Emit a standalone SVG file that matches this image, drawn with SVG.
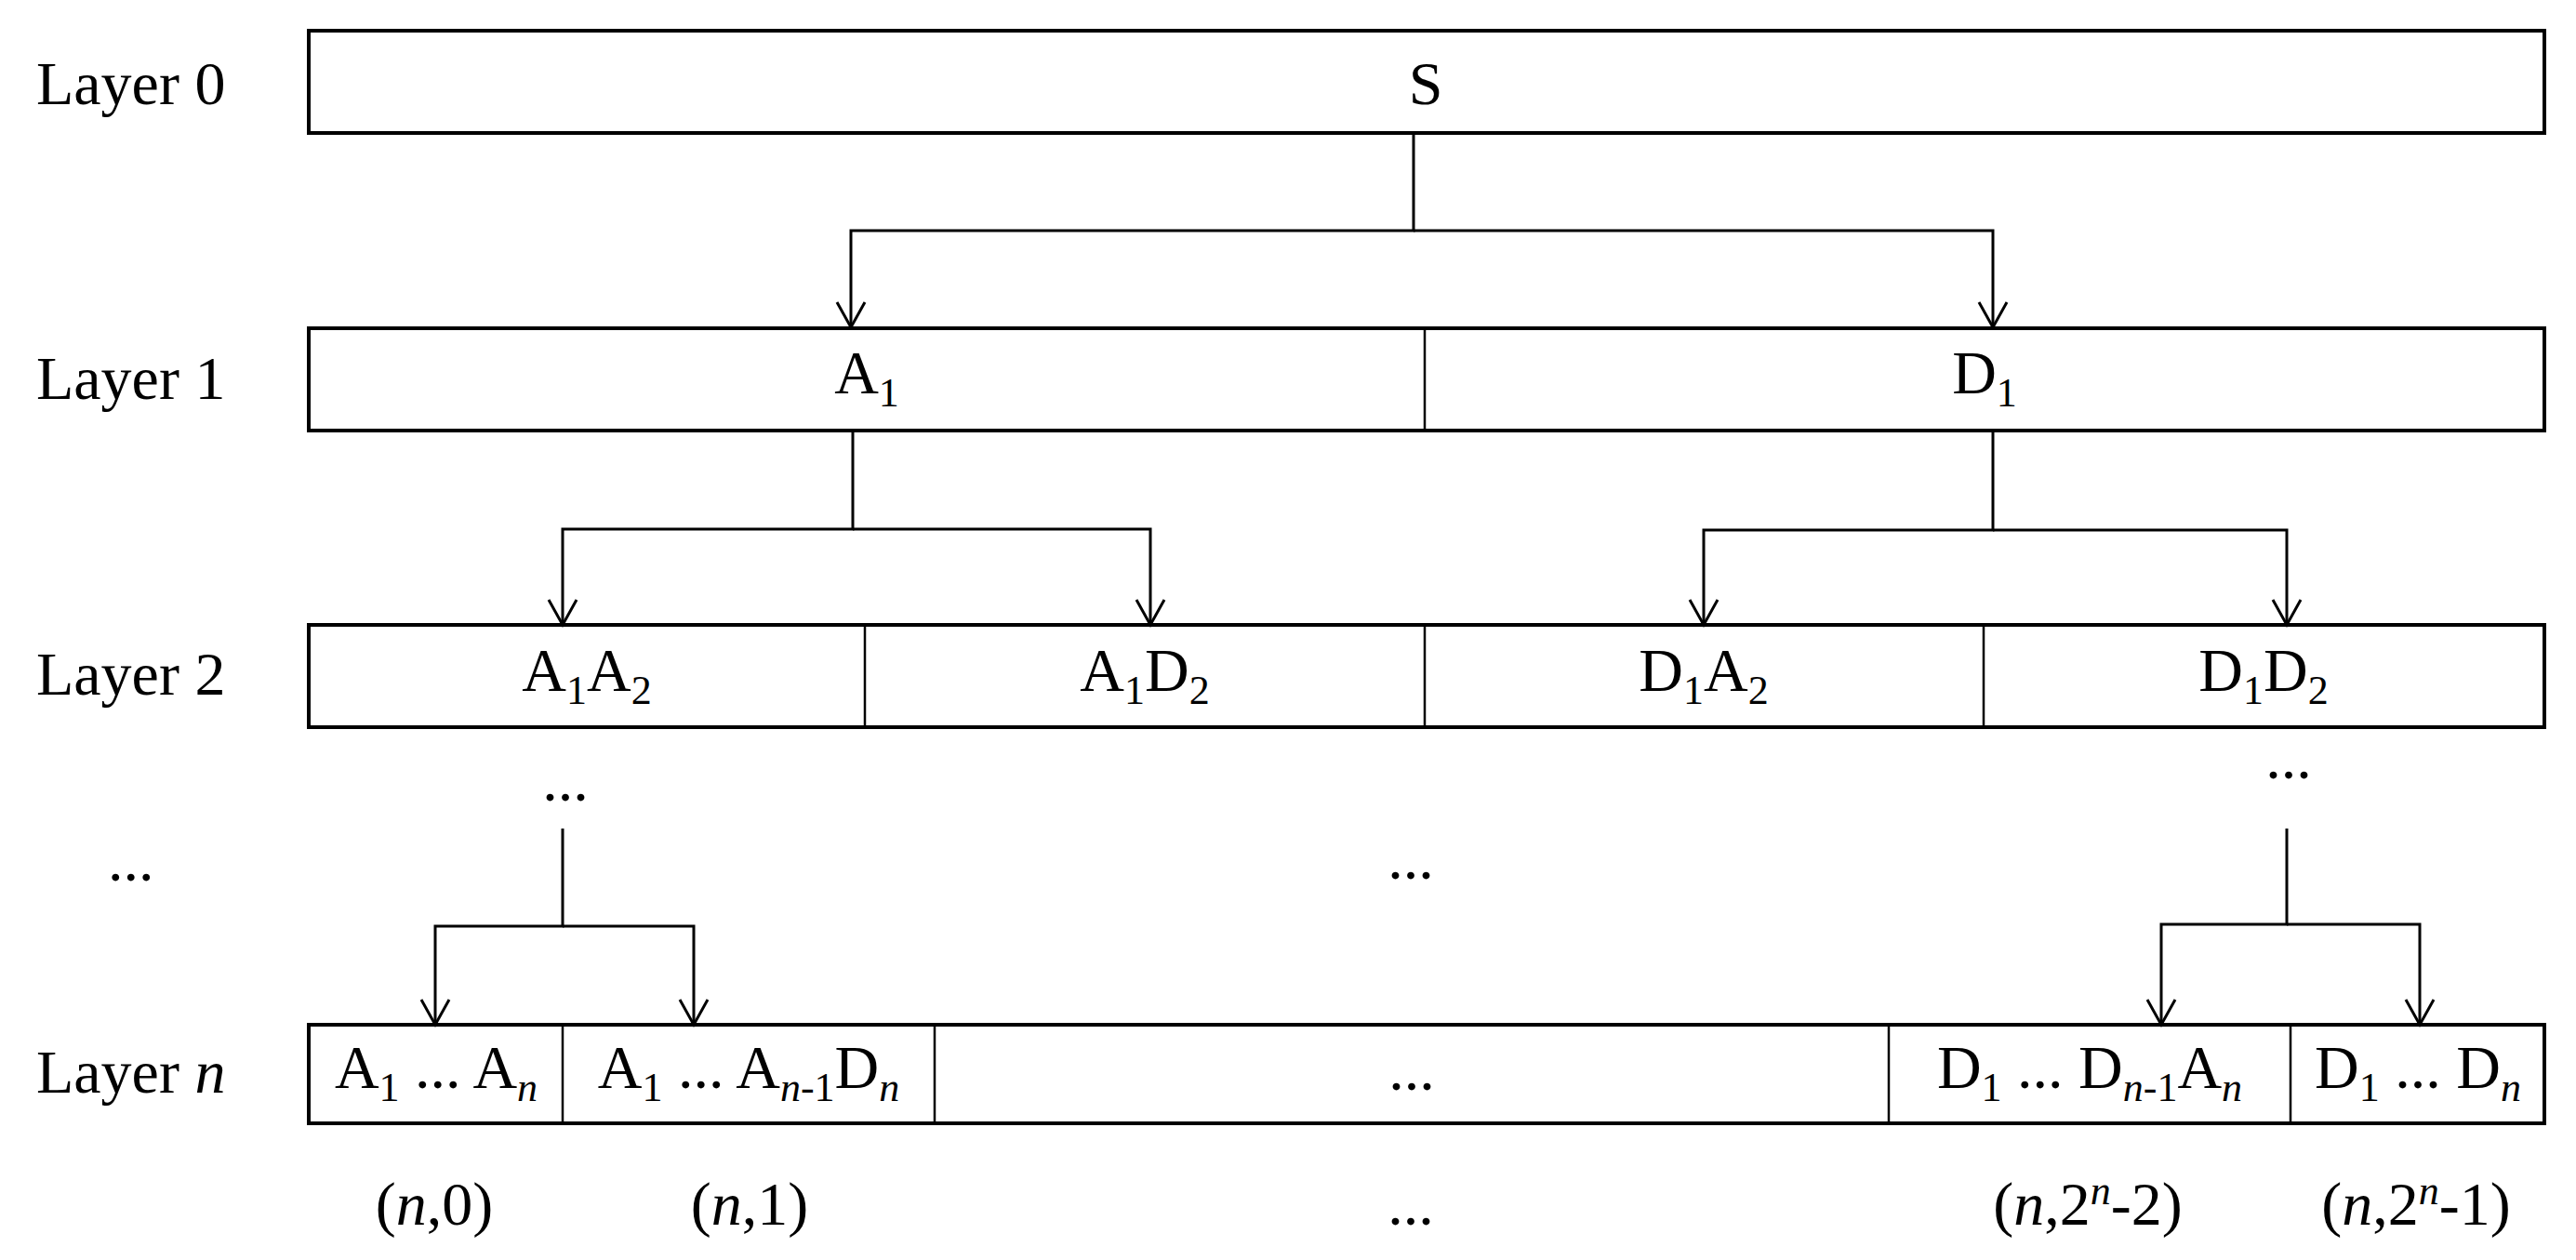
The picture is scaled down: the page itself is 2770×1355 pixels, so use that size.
<svg xmlns="http://www.w3.org/2000/svg" width="2770" height="1355" viewBox="0 0 2770 1355">
<style>
text{font-family:"Liberation Serif","Times New Roman",serif;font-size:66px;fill:#000}
.c{text-anchor:middle}
.sub{font-size:44px}
.i{font-style:italic}
.box{fill:#fff;stroke:#000;stroke-width:4}
.div{stroke:#000;stroke-width:2.5}
.con{fill:none;stroke:#000;stroke-width:3}
</style>
<defs>
<marker id="arr" markerUnits="userSpaceOnUse" markerWidth="40" markerHeight="40" orient="auto" refX="0" refY="0" overflow="visible">
<path d="M-27,-15 L0,0 L-27,15" fill="none" stroke="#000" stroke-width="3"/>
</marker>
</defs>
<g id="labels">
<text x="39" y="112">Layer 0</text>
<text x="39" y="429">Layer 1</text>
<text x="39" y="747">Layer 2</text>
<text x="116" y="947">...</text>
<text x="39" y="1175">Layer <tspan class="i">n</tspan></text>
</g>
<g id="layer0">
<rect class="box" x="332" y="33" width="2404" height="110"/>
<text class="c" x="1533" y="112">S</text>
</g>
<g id="layer1">
<rect class="box" x="332" y="353" width="2404" height="110"/>
<line class="div" x1="1532" y1="353" x2="1532" y2="463"/>
<text class="c" x="932" y="423">A<tspan class="sub" dy="14">1</tspan></text>
<text class="c" x="2134" y="423">D<tspan class="sub" dy="14">1</tspan></text>
</g>
<g id="layer2">
<rect class="box" x="332" y="672" width="2404" height="110"/>
<line class="div" x1="930" y1="672" x2="930" y2="782"/>
<line class="div" x1="1532" y1="672" x2="1532" y2="782"/>
<line class="div" x1="2133" y1="672" x2="2133" y2="782"/>
<text class="c" x="631" y="743">A<tspan class="sub" dy="14">1</tspan><tspan dy="-14">A</tspan><tspan class="sub" dy="14">2</tspan></text>
<text class="c" x="1231" y="743">A<tspan class="sub" dy="14">1</tspan><tspan dy="-14">D</tspan><tspan class="sub" dy="14">2</tspan></text>
<text class="c" x="1832" y="743">D<tspan class="sub" dy="14">1</tspan><tspan dy="-14">A</tspan><tspan class="sub" dy="14">2</tspan></text>
<text class="c" x="2434" y="743">D<tspan class="sub" dy="14">1</tspan><tspan dy="-14">D</tspan><tspan class="sub" dy="14">2</tspan></text>
</g>
<g id="ellipses">
<text class="c" x="608" y="861">...</text>
<text class="c" x="2461" y="837">...</text>
<text class="c" x="1517" y="945">...</text>
</g>
<g id="layern">
<rect class="box" x="332" y="1102" width="2404" height="106"/>
<line class="div" x1="605" y1="1102" x2="605" y2="1208"/>
<line class="div" x1="1005" y1="1102" x2="1005" y2="1208"/>
<line class="div" x1="2031" y1="1102" x2="2031" y2="1208"/>
<line class="div" x1="2463" y1="1102" x2="2463" y2="1208"/>
<text class="c" x="469" y="1170">A<tspan class="sub" dy="14">1</tspan><tspan dy="-14"> ... A</tspan><tspan class="sub i" dy="14">n</tspan></text>
<text class="c" x="805" y="1170">A<tspan class="sub" dy="14">1</tspan><tspan dy="-14"> ... A</tspan><tspan class="sub" dy="14"><tspan class="i">n</tspan>-1</tspan><tspan dy="-14">D</tspan><tspan class="sub i" dy="14">n</tspan></text>
<text class="c" x="1518" y="1172">...</text>
<text class="c" x="2247" y="1170">D<tspan class="sub" dy="14">1</tspan><tspan dy="-14"> ... D</tspan><tspan class="sub" dy="14"><tspan class="i">n</tspan>-1</tspan><tspan dy="-14">A</tspan><tspan class="sub i" dy="14">n</tspan></text>
<text class="c" x="2600" y="1170">D<tspan class="sub" dy="14">1</tspan><tspan dy="-14"> ... D</tspan><tspan class="sub i" dy="14">n</tspan></text>
</g>
<g id="indices">
<text class="c" x="467" y="1317">(<tspan class="i">n</tspan>,0)</text>
<text class="c" x="806" y="1317">(<tspan class="i">n</tspan>,1)</text>
<text class="c" x="1517" y="1317">...</text>
<text class="c" x="2245" y="1317">(<tspan class="i">n</tspan>,2<tspan class="sub i" dy="-22">n</tspan><tspan dy="22">-2)</tspan></text>
<text class="c" x="2598" y="1317">(<tspan class="i">n</tspan>,2<tspan class="sub i" dy="-22">n</tspan><tspan dy="22">-1)</tspan></text>
</g>
<g id="connectors">
<path class="con" d="M1520,143 V248 H915 V352" marker-end="url(#arr)"/>
<path class="con" d="M1520,248 H2143 V352" marker-end="url(#arr)"/>
<path class="con" d="M917,463 V569 H605 V672" marker-end="url(#arr)"/>
<path class="con" d="M917,569 H1237 V672" marker-end="url(#arr)"/>
<path class="con" d="M2143,463 V570 H1832 V672" marker-end="url(#arr)"/>
<path class="con" d="M2143,570 H2459 V672" marker-end="url(#arr)"/>
<path class="con" d="M605,891 V996 H468 V1102" marker-end="url(#arr)"/>
<path class="con" d="M605,996 H746 V1102" marker-end="url(#arr)"/>
<path class="con" d="M2459,891 V994 H2324 V1102" marker-end="url(#arr)"/>
<path class="con" d="M2459,994 H2602 V1102" marker-end="url(#arr)"/>
</g>
</svg>
